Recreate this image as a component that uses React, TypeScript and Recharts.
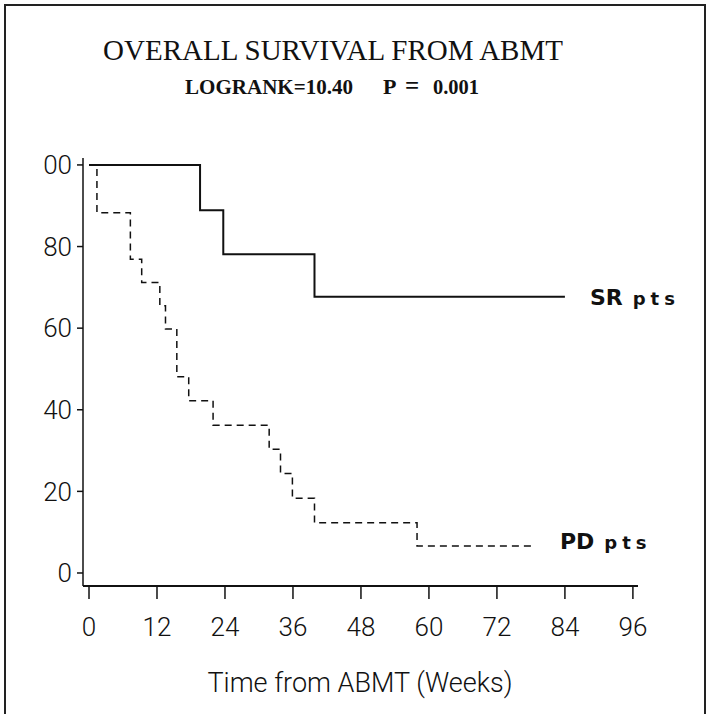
import { LineChart, Line, XAxis, YAxis } from "recharts";

// Kaplan-Meier steps (weeks, % surviving)
const srWeeks = [0, 19.6, 23.7, 39.8, 84];
const srSurvival = [100, 88.9, 78.1, 67.7, 67.7];

const pdWeeks = [0, 1.4, 7.3, 9.3, 12.5, 13.5, 15.5, 17.6, 21.9, 31.8, 33.8, 35.9, 39.8, 57.9, 78.7];
const pdSurvival = [100, 88.3, 76.9, 71.2, 65.5, 59.8, 48.1, 42.2, 36.2, 30.3, 24.4, 18.3, 12.3, 6.6, 6.6];

const xTicks = [0, 12, 24, 36, 48, 60, 72, 84, 96];
const yTicks = [0, 20, 40, 60, 80, 100];
// the "1" of 100 is lost in the original print
const yTickLabels = ["0", "20", "40", "60", "80", "00"];

const srData = srWeeks.map((t, i) => ({ t, s: srSurvival[i] }));
const pdData = pdWeeks.map((t, i) => ({ t, s: pdSurvival[i] }));

const tickFont = { fontFamily: "Roboto, 'Liberation Sans', sans-serif", fontWeight: 300, fontSize: 26, fill: "#111" };
const subFont = { fontFamily: "'Liberation Serif', serif", fontWeight: "bold", fontSize: 22, fill: "#111" };

const endLabel = (name: string, count: number, dy: number) => (p: any) => {
  if (p.index !== count - 1) return null;
  return (
    <text key={name} x={p.x + 25} y={p.y + dy} fontFamily="'DejaVu Sans', sans-serif" fontWeight="bold" fill="#111">
      <tspan fontSize={22}>{name}</tspan>
      <tspan fontSize={18} dx={10} letterSpacing={5}>pts</tspan>
    </text>
  );
};

export default function App() {
  return (
    <div style={{ position: "absolute", left: 0, top: 0, width: 708, height: 714, background: "#fff" }}>
      {/* scanned frame: left, top and right edges only */}
      <div
        style={{
          position: "absolute",
          left: 4,
          top: 4,
          width: 698,
          height: 714,
          borderLeft: "2px solid #222",
          borderTop: "2px solid #222",
          borderRight: "2px solid #222",
        }}
      />
      <svg width={708} height={714} style={{ position: "absolute", left: 0, top: 0 }}>
        <text x={333} y={60} textAnchor="middle" fontFamily="'Liberation Serif', serif" fontSize={29} fill="#111">
          OVERALL SURVIVAL FROM ABMT
        </text>
        <text x={185} y={94} textLength={168} lengthAdjust="spacingAndGlyphs" {...subFont}>
          LOGRANK=10.40
        </text>
        <text x={383} y={94} {...subFont}>P</text>
        <text x={405} y={94} {...subFont} fontSize={25}>=</text>
        <text x={433} y={94} textLength={46} lengthAdjust="spacingAndGlyphs" {...subFont}>
          0.001
        </text>
        <text x={360} y={692} textAnchor="middle" {...tickFont} fontSize={27}>
          Time from ABMT (Weeks)
        </text>
      </svg>
      <div style={{ position: "absolute", left: 0, top: 0 }}>
        <LineChart width={708} height={714} margin={{ top: 158, right: 70, bottom: 0, left: 23 }}>
          <XAxis
            dataKey="t"
            type="number"
            domain={[-1.06, 96.9]}
            ticks={xTicks}
            allowDataOverflow
            height={128}
            tickSize={13}
            tickMargin={19}
            axisLine={{ stroke: "#111", strokeWidth: 2 }}
            tickLine={{ stroke: "#111", strokeWidth: 1.5 }}
            tick={tickFont}
          />
          <YAxis
            type="number"
            domain={[-3.19, 101.7]}
            ticks={yTicks}
            allowDataOverflow
            width={60}
            tickSize={6}
            tickMargin={5}
            tickFormatter={(v: number) => yTickLabels[yTicks.indexOf(v)]}
            axisLine={{ stroke: "#111", strokeWidth: 1.5 }}
            tickLine={{ stroke: "#111", strokeWidth: 1.5 }}
            tick={tickFont}
          />
          <Line
            data={srData}
            dataKey="s"
            type="stepAfter"
            stroke="#111"
            strokeWidth={2}
            dot={false}
            label={endLabel("SR", srData.length, 8)}
            isAnimationActive={false}
          />
          <Line
            data={pdData}
            dataKey="s"
            type="stepAfter"
            stroke="#111"
            strokeWidth={1.5}
            strokeDasharray="7 5"
            dot={false}
            label={endLabel("PD", pdData.length, 3)}
            isAnimationActive={false}
          />
        </LineChart>
      </div>
    </div>
  );
}
